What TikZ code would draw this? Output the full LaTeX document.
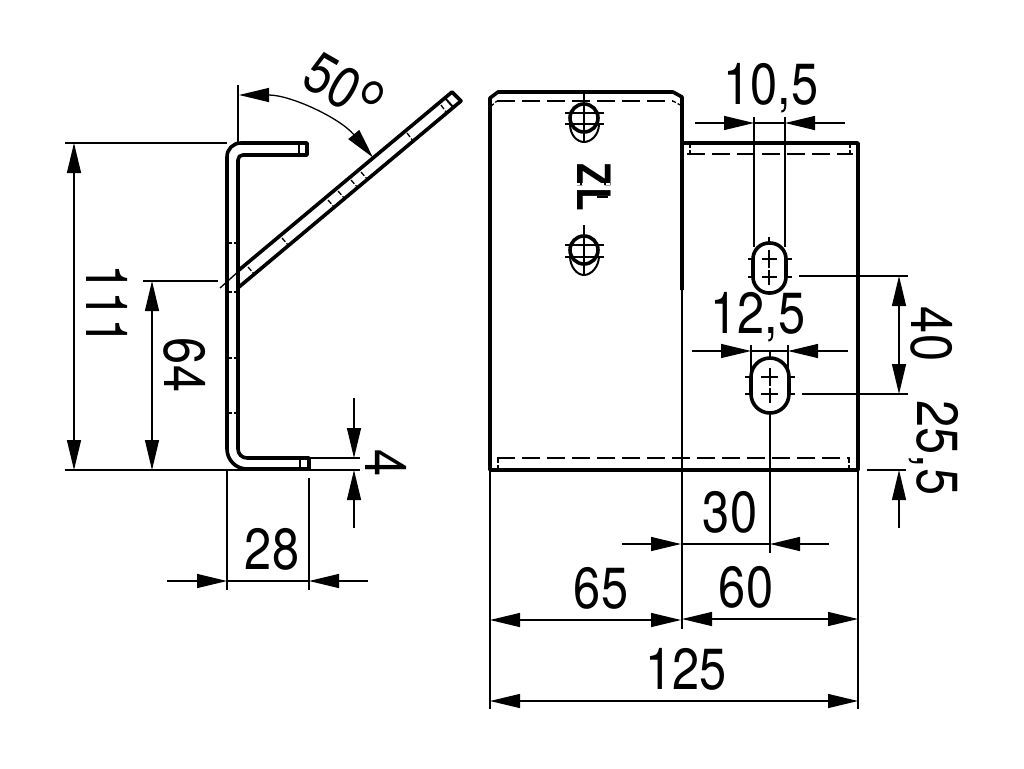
\documentclass[tikz,border=0pt]{standalone}
\usepackage{fontspec}
\usepackage{graphicx}
\setmainfont{TeX Gyre Heros}
\usetikzlibrary{arrows.meta}
\newcommand{\dimlabel}[1]{\scalebox{0.84}[1]{#1}}
\tikzset{
  dimtip/.tip={Triangle[length=30pt,width=14pt]},
  outline/.style={line width=3.6pt,line join=round},
  thinline/.style={line width=1.3pt},
  hidden/.style={line width=1.5pt,dash pattern=on 18pt off 7pt},
  tick/.style={line width=1.3pt,dash pattern=on 5pt off 2pt},
  dimend/.style={thinline,-dimtip},
  dimboth/.style={thinline,dimtip-dimtip},
  dimtext/.style={inner sep=0pt,text height=42pt,text depth=0pt,font=\fontsize{58}{58}\selectfont},
}
\begin{document}
\begin{tikzpicture}[x=1pt,y=-1pt]
  \useasboundingbox (0,0) rectangle (1024,768);

  % side view
  \draw[outline](307,143)--(241,143) .. controls (233,143) and (227,149) .. (227,157)
    --(227,449) .. controls (227,460) and (236,469) .. (247,469)
    --(309,469)--(309,458)--(247,458) .. controls (242,458) and (238,454) .. (238,449)
    --(238,160) .. controls (238,157) and (240,155) .. (243,155)--(307,155)--cycle;
  \draw[thinline,line width=2pt](299,143)--(299,155);
  \draw[thinline,line width=2pt](300,458)--(300,469);
  \draw[outline](239,270)--(452,92)--(461,101)--(239,287);
  \draw[thinline,line width=2pt](445,98)--(453,107);
  \draw[thinline](220,288)--(240,270);

  \draw[tick](227,243)--(238,243);
  \draw[tick](227,292)--(238,292);
  \draw[tick](227,358)--(238,358);
  \draw[tick](227,413)--(238,413);
  \draw[tick](248,267)--(255,275);
  \draw[tick](282,238)--(289,246);
  \draw[tick](328,200)--(335,208);
  \draw[tick](338,191)--(345,199);
  \draw[tick](351,180)--(358,188);
  \draw[tick](361,172)--(368,180);
  \draw[tick](407,133)--(413,141);
  \draw[tick](441,105)--(446,112);

  % front view
  \draw[outline](682,290)--(682,97)--(673,92)--(498,92)--(490,98)--(490,470)--(858,470)--(858,143)--(682,143);
  \draw[thinline](682,290)--(682,629);
  \draw[hidden](497,101)--(673,101);
  \draw[hidden](687,154)--(853,154);
  \draw[hidden](497,458)--(850,458);
  \draw[tick](490,107)--(497,101);
  \draw[tick](682,106)--(673,101);
  \draw[tick](690,143)--(690,155);
  \draw[tick](850,143)--(850,155);
  \draw[tick](498,458)--(498,470);
  \draw[tick](849,458)--(849,470);

  % holes in the left part
  \draw[outline](584,118) ellipse [x radius=14,y radius=14];
  \draw[thinline,line width=2pt](570,124) .. controls (570,135) and (577,142) .. (584,142) .. controls (591,142) and (599,135) .. (599,124);
  \draw[thinline](584,92)--(584,143);
  \draw[thinline](565,113)--(604,113);
  \draw[thinline](565,124)--(604,124);
  \draw[outline](584,250) ellipse [x radius=14,y radius=14];
  \draw[thinline,line width=2pt](570,256) .. controls (570,267) and (577,275) .. (584,275) .. controls (591,275) and (599,267) .. (599,256);
  \draw[thinline](584,225)--(584,276);
  \draw[thinline](565,245)--(604,245);
  \draw[thinline](565,257)--(604,257);

  \node(mark)[inner sep=0pt,rotate=-90,font=\fontsize{46}{46}\selectfont\bfseries] at (594,187) {\dimlabel{ZL}};
  \draw[white,line width=1.5pt,dash pattern=on 4pt off 2pt](576,184)--(610,184);
  \draw[line width=1.5pt](597,197)--(608,197);

  % slots
  \draw[outline,rounded corners=16pt](753,243) rectangle (786,293);
  \draw[thinline](762,259)--(777,259);
  \draw[thinline](762,277)--(777,277);
  \draw[thinline](769,250)--(769,268);
  \draw[thinline](769,270)--(769,285);
  \draw[thinline](769,237)--(769,243);
  \draw[thinline](748,259)--(753,259);
  \draw[thinline](786,259)--(792,259);
  \draw[thinline](748,277)--(753,277);
  \draw[thinline](786,277)--(792,277);

  \draw[outline,rounded corners=19pt](751,358) rectangle (789,413);
  \draw[thinline](761,377)--(778,377);
  \draw[thinline](761,394)--(778,394);
  \draw[thinline](770,368)--(770,386);
  \draw[thinline](770,388)--(770,403);
  \draw[thinline](770,352)--(770,358);
  \draw[thinline](745,377)--(751,377);
  \draw[thinline](789,377)--(795,377);
  \draw[thinline](745,394)--(751,394);
  \draw[thinline](789,394)--(795,394);
  \draw[thinline](770,413)--(770,553);

  % extension lines
  \draw[thinline](65,143)--(227,143);
  \draw[thinline](65,470)--(360,470);
  \draw[thinline](143,281)--(218,281);
  \draw[thinline](309,458)--(360,458);
  \draw[thinline](238,85)--(238,143);
  \draw[thinline](227,470)--(227,590);
  \draw[thinline](309,478)--(309,590);
  \draw[thinline](490,470)--(490,709);
  \draw[thinline](858,470)--(858,709);
  \draw[thinline](754,117)--(754,247);
  \draw[thinline](785,117)--(785,247);
  \draw[thinline](751,345)--(751,372);
  \draw[thinline](788,345)--(788,372);
  \draw[thinline](799,276)--(908,276);
  \draw[thinline](802,394)--(908,394);
  \draw[thinline](867,470)--(906,470);

  % dimensions
  \coordinate(a1) at (74,143);
  \coordinate(a2) at (74,470);
  \draw[dimboth](a1)--(a2);
  \node(l111)[dimtext,rotate=-90] at (107,305) {\dimlabel{111}};

  \coordinate(b1) at (152,281);
  \coordinate(b2) at (152,470);
  \draw[dimboth](b1)--(b2);
  \node(l64)[dimtext,rotate=-90] at (185,365) {\dimlabel{64}};

  \coordinate(c1) at (354,398);
  \coordinate(c2) at (354,458);
  \coordinate(c3) at (354,528);
  \coordinate(c4) at (354,470);
  \draw[dimend](c1)--(c2);
  \draw[dimend](c3)--(c4);
  \node(l4)[dimtext,rotate=-90] at (386,463) {\dimlabel{4}};

  \coordinate(d1) at (167,581);
  \coordinate(d2) at (227,581);
  \coordinate(d3) at (368,581);
  \coordinate(d4) at (309,581);
  \draw[dimend](d1)--(d2);
  \draw[dimend](d3)--(d4);
  \draw[thinline](d2)--(d4);
  \node(l28)[dimtext] at (272,548) {\dimlabel{28}};

  \coordinate(e1) at (239,95);
  \coordinate(e2) at (373,157.5);
  \draw[dimboth](e1) .. controls (290.7,95) and (339.8,117.9) .. (e2);
  \node(l50)[dimtext,rotate=-30] at (345,87) {\dimlabel{50\raisebox{-16pt}{\scalebox{1.4}{°}}}};

  \coordinate(f1) at (695,123);
  \coordinate(f2) at (754,123);
  \coordinate(f3) at (845,123);
  \coordinate(f4) at (785,123);
  \draw[dimend](f1)--(f2);
  \draw[dimend](f3)--(f4);
  \draw[thinline](f2)--(f4);
  \node(l105)[dimtext] at (771,83) {\dimlabel{10,5}};

  \coordinate(g1) at (692,351);
  \coordinate(g2) at (751,351);
  \coordinate(g3) at (848,351);
  \coordinate(g4) at (788,351);
  \draw[dimend](g1)--(g2);
  \draw[dimend](g3)--(g4);
  \draw[thinline](g2)--(g4);
  \node(l125)[dimtext] at (758,312) {\dimlabel{12,5}};

  \coordinate(h1) at (899,276);
  \coordinate(h2) at (899,394);
  \draw[dimboth](h1)--(h2);
  \node(l40)[dimtext,rotate=-90] at (932,334) {\dimlabel{40}};

  \coordinate(i1) at (899,528);
  \coordinate(i2) at (899,470);
  \draw[dimend](i1)--(i2);
  \node(l255)[dimtext,rotate=-90] at (938,448) {\dimlabel{25,5}};

  \coordinate(j1) at (622,544);
  \coordinate(j2) at (681,544);
  \coordinate(j3) at (829,544);
  \coordinate(j4) at (770,544);
  \draw[dimend](j1)--(j2);
  \draw[dimend](j3)--(j4);
  \draw[thinline](j2)--(j4);
  \node(l30)[dimtext] at (730,511) {\dimlabel{30}};

  \coordinate(k1) at (490,620);
  \coordinate(k2) at (681,620);
  \coordinate(k3) at (858,619);
  \coordinate(k4) at (682,619);
  \draw[dimboth](k1)--(k2);
  \draw[dimboth](k4)--(k3);
  \node(l65)[dimtext] at (601,587) {\dimlabel{65}};
  \node(l60)[dimtext] at (746,586) {\dimlabel{60}};

  \coordinate(m1) at (490,701);
  \coordinate(m2) at (858,701);
  \draw[dimboth](m1)--(m2);
  \node(ltotal)[dimtext] at (686,668) {\dimlabel{125}};
\end{tikzpicture}
\end{document}
